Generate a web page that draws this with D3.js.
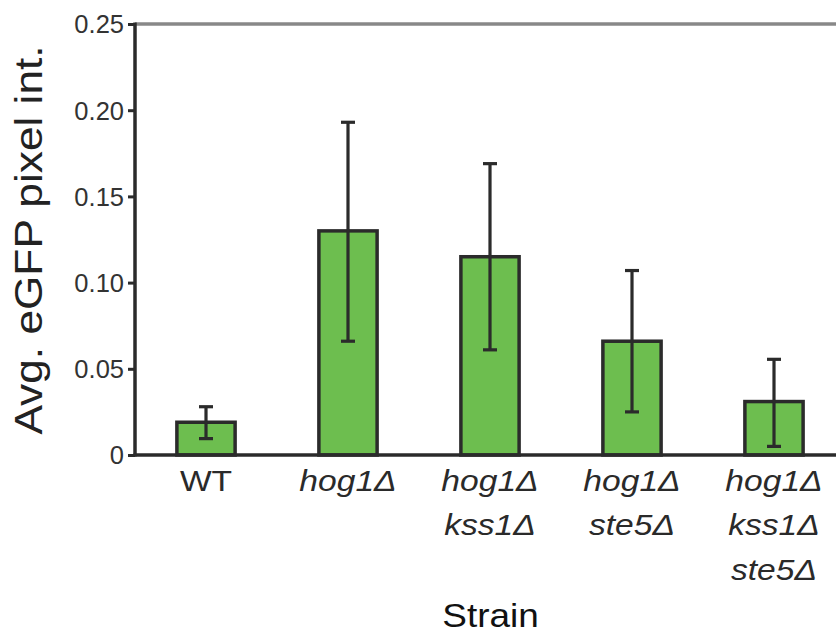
<!DOCTYPE html>
<html>
<head>
<meta charset="utf-8">
<script src="https://cdn.jsdelivr.net/npm/d3@7"></script>
<style>
  html, body { margin: 0; padding: 0; background: #fff; }
  svg { display: block; font-family: "Liberation Sans", Arial, Helvetica, sans-serif; }
</style>
</head>
<body>
<svg id="chart" width="836" height="641"></svg>
<script>
// Strains (each label split into lines, all but WT set in italics)
const strains = ["WT", "hog1Δ", "hog1Δ kss1Δ", "hog1Δ ste5Δ", "hog1Δ kss1Δ ste5Δ"];
const strainLines = [["WT"], ["hog1Δ"], ["hog1Δ", "kss1Δ"], ["hog1Δ", "ste5Δ"], ["hog1Δ", "kss1Δ", "ste5Δ"]];
const italicLabel = [false, true, true, true, true];

// Mean eGFP pixel intensity and error bar limits
const means = [0.019, 0.130, 0.115, 0.066, 0.031];
const errLow = [0.0095, 0.066, 0.061, 0.025, 0.005];
const errHigh = [0.028, 0.193, 0.169, 0.107, 0.0555];

const yTicks = [0, 0.05, 0.10, 0.15, 0.20, 0.25];
const yTickLabels = ["0", "0.05", "0.10", "0.15", "0.20", "0.25"];

const svg = d3.select("#chart");
const plotLeft = 135, plotRight = 845, plotTop = 24, plotBottom = 455;
const wide = 1.12; // horizontal stretch of the label lettering

const x = d3.scaleBand()
  .domain(strains)
  .range([plotLeft, plotRight])
  .paddingInner(0.59)
  .paddingOuter(0.295);

const y = d3.scaleLinear().domain([0, 0.25]).range([plotBottom, plotTop]);

const dark = "#2b2b2b";

// top frame line
svg.append("line")
  .attr("x1", plotLeft).attr("x2", 836)
  .attr("y1", y(0.25)).attr("y2", y(0.25))
  .attr("stroke", "#888").attr("stroke-width", 3.5);

// bars
svg.append("g").selectAll("rect")
  .data(strains)
  .join("rect")
  .attr("x", d => x(d))
  .attr("width", x.bandwidth())
  .attr("y", (d, i) => y(means[i]))
  .attr("height", (d, i) => y(0) - y(means[i]))
  .attr("fill", "#6dbe4f")
  .attr("stroke", dark)
  .attr("stroke-width", 3.5);

// error bars
const eg = svg.append("g").attr("stroke", dark).attr("stroke-width", 3.2);
strains.forEach((s, i) => {
  const cx = x(s) + x.bandwidth() / 2;
  eg.append("line").attr("x1", cx).attr("x2", cx)
    .attr("y1", y(errLow[i])).attr("y2", y(errHigh[i]));
  [errLow[i], errHigh[i]].forEach(v => {
    eg.append("line").attr("x1", cx - 7).attr("x2", cx + 7)
      .attr("y1", y(v)).attr("y2", y(v));
  });
});

// y axis
const yAxis = d3.axisLeft(y)
  .tickValues(yTicks)
  .tickFormat((d, i) => yTickLabels[i])
  .tickSize(7)
  .tickPadding(4);
const ya = svg.append("g").attr("transform", `translate(${plotLeft},0)`).call(yAxis);
ya.select(".domain").attr("stroke", dark).attr("stroke-width", 3.5)
  .attr("d", `M0,${y(0) + 1.5}V${y(0.25) - 1.5}`);
ya.selectAll(".tick line").attr("stroke", dark).attr("stroke-width", 3);
ya.selectAll(".tick text")
  .attr("font-size", 25.5)
  .attr("fill", "#333")
  .attr("font-family", "Liberation Sans, Arial, sans-serif")
  .attr("dy", "0.35em");

// baseline
svg.append("line")
  .attr("x1", plotLeft - 1.5).attr("x2", 836)
  .attr("y1", y(0)).attr("y2", y(0))
  .attr("stroke", dark).attr("stroke-width", 3.5);

// x category labels
const xl = svg.append("g");
strains.forEach((s, i) => {
  const cx = x(s) + x.bandwidth() / 2;
  const t = xl.append("text")
    .attr("transform", `translate(${cx},0) scale(${wide},1)`)
    .attr("text-anchor", "middle")
    .attr("font-size", 30)
    .attr("fill", "#2a2a2a")
    .attr("font-style", italicLabel[i] ? "italic" : "normal");
  strainLines[i].forEach((line, j) => {
    t.append("tspan").attr("x", 0).attr("y", 491 + j * 44.5).text(line);
  });
});

// axis titles
svg.append("text")
  .attr("transform", `translate(490.5,627) scale(${wide},1)`)
  .attr("text-anchor", "middle")
  .attr("font-size", 33)
  .attr("fill", "#111")
  .text("Strain");

svg.append("text")
  .attr("transform", `translate(41.5,240) rotate(-90) scale(${wide},1)`)
  .attr("text-anchor", "middle")
  .attr("font-size", 39.5)
  .attr("fill", "#222")
  .text("Avg. eGFP pixel int.");
</script>
</body>
</html>
